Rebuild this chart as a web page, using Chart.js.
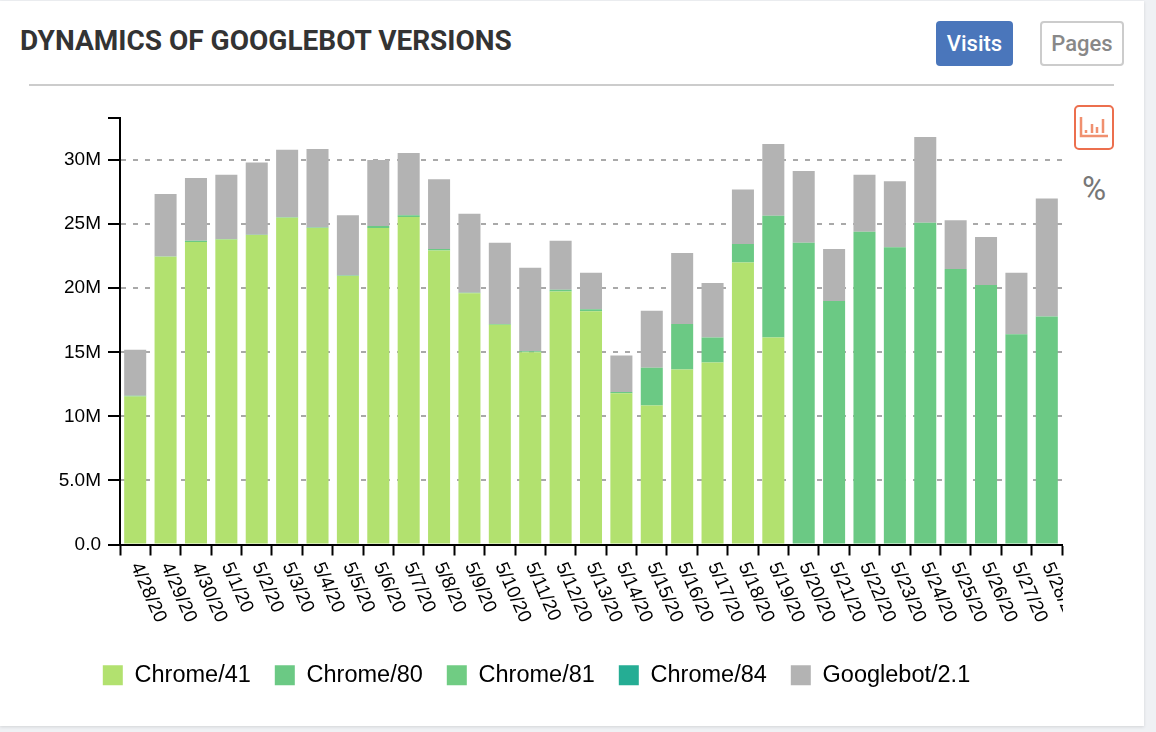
<!DOCTYPE html>
<html>
<head>
<meta charset="utf-8">
<title>Dynamics of Googlebot versions</title>
<script src="https://cdn.jsdelivr.net/npm/chart.js@4"></script>
<style>
  html, body { margin: 0; padding: 0; width: 1156px; height: 732px; overflow: hidden; background: #eff1f4; }
  .card { position: absolute; left: 0; top: 1px; width: 1144px; height: 725px; background: #fff; box-shadow: 0 1px 3px rgba(0,0,0,.12); }
  h2 { position: absolute; left: 20px; top: 22px; margin: 0; font: 700 28px/36px Roboto, sans-serif; color: #333; white-space: nowrap; }
  .btn { position: absolute; top: 20px; height: 45px; line-height: 45px; text-align: center; box-sizing: border-box; border-radius: 4px; font: 500 22px/45px Roboto, sans-serif; }
  .visits { left: 936px; width: 77px; background: #4a76bb; color: #fff; }
  .pages { left: 1040px; width: 84px; border: 2px solid #ccc; line-height: 41px; color: #888; }
  .rule { position: absolute; left: 29px; top: 83px; width: 1085px; height: 2px; background: #ccc; }
  .icon { position: absolute; left: 1074px; top: 104px; }
  .pct { position: absolute; left: 1074px; top: 168px; width: 40px; text-align: center; font: 400 33px/40px Roboto, sans-serif; color: #777; }
  canvas { position: absolute; left: 0; top: 99px; }
</style>
</head>
<body>
<div class="card">
  <h2>DYNAMICS OF GOOGLEBOT VERSIONS</h2>
  <div class="btn visits">Visits</div>
  <div class="btn pages">Pages</div>
  <div class="rule"></div>
  <svg class="icon" width="40" height="46" viewBox="0 0 40 46">
    <rect x="1" y="1" width="38" height="43" rx="4" fill="none" stroke="#ec6f4e" stroke-width="2"/>
    <path d="M7 12V31H34M12 25V28M18 19V28M23 22V28M29 14V28" fill="none" stroke="#f0906f" stroke-width="2.5"/>
  </svg>
  <div class="pct">%</div>
  <canvas id="chart" width="1070" height="597"></canvas>
</div>
<script>
const categories = ["4/28/20", "4/29/20", "4/30/20", "5/1/20", "5/2/20", "5/3/20", "5/4/20", "5/5/20", "5/6/20", "5/7/20", "5/8/20", "5/9/20", "5/10/20", "5/11/20", "5/12/20", "5/13/20", "5/14/20", "5/15/20", "5/16/20", "5/17/20", "5/18/20", "5/19/20", "5/20/20", "5/21/20", "5/22/20", "5/23/20", "5/24/20", "5/25/20", "5/26/20", "5/27/20", "5/28/20"];

// values in millions
const chrome41 = [11.55, 22.45, 23.6, 23.8, 24.15, 25.5, 24.7, 20.95, 24.7, 25.55, 22.95, 19.6, 17.15, 15.0, 19.75, 18.2, 11.8, 10.85, 13.65, 14.2, 22, 16.15, 0, 0, 0, 0, 0, 0, 0, 0, 0];
const chrome80 = [0.05, 0.03, 0.1, 0.03, 0.03, 0.03, 0.03, 0.05, 0.15, 0.15, 0.1, 0.05, 0.05, 0.08, 0.12, 0.15, 0.1, 2.95, 3.55, 1.95, 1.45, 9.5, 23.55, 19, 24.4, 23.2, 25.1, 21.5, 20.25, 16.4, 17.8];
const chrome81 = [0, 0, 0, 0, 0, 0, 0, 0, 0, 0, 0, 0, 0, 0, 0, 0, 0, 0, 0, 0, 0, 0, 0, 0, 0, 0, 0, 0, 0, 0, 0];
const chrome84 = [0, 0, 0, 0, 0, 0, 0, 0, 0, 0, 0, 0, 0, 0, 0, 0, 0, 0, 0, 0, 0, 0, 0, 0, 0, 0, 0, 0, 0, 0, 0];
const googlebot = [3.6, 4.87, 4.9, 5.02, 5.62, 5.27, 6.14, 4.7, 5.15, 4.85, 5.45, 6.15, 6.35, 6.52, 3.83, 2.85, 2.85, 4.45, 5.55, 4.25, 4.25, 5.6, 5.6, 4.05, 4.45, 5.15, 6.7, 3.8, 3.75, 4.8, 9.2];

const yTicks = { 0: "0.0", 5: "5.0M", 10: "10M", 15: "15M", 20: "20M", 25: "25M", 30: "30M" };
const yMax = 33.25;

// the rotated date labels lean the other way than chart.js can do on its own
const slantedLabels = {
  id: "slantedLabels",
  afterDraw(chart) {
    const ctx = chart.ctx;
    const xs = chart.scales.x;
    ctx.save();
    ctx.beginPath();
    ctx.rect(0, xs.top, xs.right + 1, xs.height);
    ctx.clip();
    ctx.font = "19px 'Liberation Sans'";
    ctx.fillStyle = "#000";
    ctx.textAlign = "left";
    ctx.textBaseline = "middle";
    categories.forEach((c, i) => {
      ctx.save();
      ctx.translate(xs.getPixelForValue(i), xs.top + 19);
      ctx.rotate(66 * Math.PI / 180);
      ctx.fillText(c, 0, 0);
      ctx.restore();
    });
    ctx.restore();
  }
};

new Chart(document.getElementById("chart"), {
  type: "bar",
  data: {
    labels: categories,
    datasets: [
      { label: "Chrome/41", data: chrome41, backgroundColor: "#b2e16f" },
      { label: "Chrome/80", data: chrome80, backgroundColor: "#6bc984" },
      { label: "Chrome/81", data: chrome81, backgroundColor: "#70cc83" },
      { label: "Chrome/84", data: chrome84, backgroundColor: "#25ad94" },
      { label: "Googlebot/2.1", data: googlebot, backgroundColor: "#b3b3b3" }
    ]
  },
  options: {
    responsive: false,
    animation: false,
    barPercentage: 0.725,
    categoryPercentage: 1,
    layout: { padding: { left: 11, right: 8, top: 16, bottom: 0 } },
    plugins: {
      tooltip: { enabled: false },
      legend: {
        position: "bottom",
        align: "center",
        labels: {
          boxWidth: 20,
          boxHeight: 20,
          padding: 24,
          color: "#000",
          font: { family: "'Liberation Sans'", size: 23.5 }
        }
      }
    },
    scales: {
      x: {
        stacked: true,
        afterFit(scale) { scale.height = 95; },
        border: { color: "#000", width: 2 },
        grid: { offset: true, drawOnChartArea: false, tickColor: "#000", tickWidth: 2, tickLength: 11 },
        ticks: { display: false, autoSkip: false }
      },
      y: {
        stacked: true,
        min: 0,
        max: yMax,
        afterFit(scale) { scale.width = 109; },
        border: { color: "#000", width: 2, dash: [5, 7] },
        grid: {
          color: ctx => (ctx.tick && ctx.tick.value > 0 && ctx.tick.value < yMax ? "#a9a9a9" : "rgba(0,0,0,0)"),
          lineWidth: 2,
          tickColor: "#000",
          tickWidth: 2,
          tickLength: 12,
          tickBorderDash: [1, 0]
        },
        ticks: {
          stepSize: 5,
          padding: 7,
          color: "#000",
          font: { family: "'Liberation Sans'", size: 19 },
          callback: v => yTicks[v] || ""
        }
      }
    }
  },
  plugins: [slantedLabels]
});
</script>
</body>
</html>
